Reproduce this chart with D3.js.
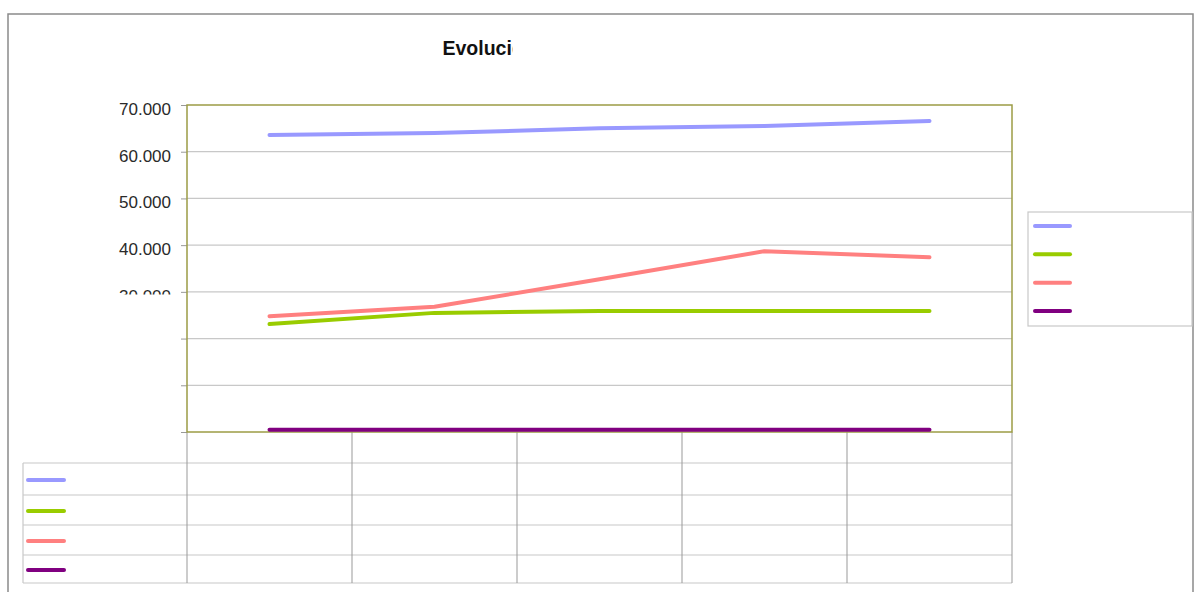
<!DOCTYPE html>
<html>
<head>
<meta charset="utf-8">
<script src="https://cdn.jsdelivr.net/npm/d3@7/dist/d3.min.js"></script>
<style>
  html, body { margin: 0; padding: 0; background: #fff; }
  svg { display: block; font-family: "Liberation Sans", Arial, sans-serif; }
</style>
</head>
<body>
<svg id="chart" width="1196" height="592"></svg>
<script>
// ---- data ----
const categories = ["c1", "c2", "c3", "c4", "c5"];
const seriesNames = ["s1", "s2", "s3", "s4"];
const seriesColors = ["#9999ff", "#99cc00", "#ff8080", "#800080"];
const blueValues   = [63600, 64000, 65000, 65500, 66600];
const greenValues  = [23100, 25500, 25900, 25900, 25900];
const redValues    = [24800, 26800, 32700, 38700, 37400];
const purpleValues = [500, 500, 500, 500, 500];
const yTicks = [0, 10000, 20000, 30000, 40000, 50000, 60000, 70000];
const yTickLabels = ["", "", "", "30.000", "40.000", "50.000", "60.000", "70.000"];
const titleText = "Evolución";

const series = [blueValues, greenValues, redValues, purpleValues];

// ---- layout ----
const svg = d3.select("#chart");
const plot = { left: 187, right: 1012, top: 105, bottom: 432 };

const x = d3.scalePoint().domain(categories).range([plot.left, plot.right]).padding(0.5);
const xBand = d3.scaleBand().domain(categories).range([plot.left, plot.right]);
const y = d3.scaleLinear().domain([0, 70000]).range([plot.bottom, plot.top]);

const defs = svg.append("defs");
defs.append("clipPath").attr("id", "titleClip")
  .append("rect").attr("x", 0).attr("y", 0).attr("width", 512.5).attr("height", 592);
defs.append("clipPath").attr("id", "labelClip")
  .append("rect").attr("x", 0).attr("y", 0).attr("width", 1196).attr("height", 294.5);

// outer frame
svg.append("rect")
  .attr("x", 8).attr("y", 14).attr("width", 1185).attr("height", 600)
  .attr("fill", "none").attr("stroke", "#8a8a8a").attr("stroke-width", 1.5);

// title (clipped like the reference)
svg.append("text")
  .attr("x", 442.5).attr("y", 55)
  .attr("clip-path", "url(#titleClip)")
  .attr("font-size", 19.5).attr("font-weight", "bold").attr("fill", "#111")
  .text(titleText);

// grid lines
svg.append("g").selectAll("line").data(yTicks.filter(t => t > 0 && t < 70000)).join("line")
  .attr("x1", plot.left).attr("x2", plot.right)
  .attr("y1", d => y(d)).attr("y2", d => y(d))
  .attr("stroke", "#c8c8c8").attr("stroke-width", 1.2);

// y axis ticks via d3.axisLeft
const yAxis = d3.axisLeft(y).tickValues(yTicks).tickSize(6).tickFormat(() => "");
const gy = svg.append("g").attr("transform", `translate(${plot.left},0)`).call(yAxis);
gy.select(".domain").remove();
gy.selectAll(".tick line").attr("stroke", "#999").attr("stroke-width", 1);
gy.selectAll(".tick text").remove();

// y labels (clipped like the reference)
const labelsLayer = svg.append("g").attr("clip-path", "url(#labelClip)");
labelsLayer.selectAll("text").data(yTicks).join("text")
  .attr("x", plot.left - 16).attr("y", d => y(d) + 10)
  .attr("text-anchor", "end")
  .attr("font-size", 17).attr("fill", "#2a2a2a")
  .text((d, i) => yTickLabels[i]);

// table below the plot
const table = { left: 23, rowH: [463, 495, 525, 555, 583] };
const tg = svg.append("g");
tg.selectAll("line.h").data(table.rowH).join("line").attr("class", "h")
  .attr("x1", table.left).attr("x2", plot.right)
  .attr("y1", d => d).attr("y2", d => d)
  .attr("stroke", "#c8c8c8").attr("stroke-width", 1.2);
tg.append("line")
  .attr("x1", table.left).attr("x2", table.left)
  .attr("y1", table.rowH[0]).attr("y2", table.rowH[4])
  .attr("stroke", "#c8c8c8").attr("stroke-width", 1.2);
const colEdges = categories.map(c => xBand(c)).concat([plot.right]);
tg.selectAll("line.v").data(colEdges).join("line").attr("class", "v")
  .attr("x1", d => d).attr("x2", d => d)
  .attr("y1", plot.bottom).attr("y2", table.rowH[4])
  .attr("stroke", "#999").attr("stroke-width", 1);
tg.selectAll("line.k").data(seriesColors).join("line").attr("class", "k")
  .attr("x1", 28).attr("x2", 64)
  .attr("y1", (d, i) => (table.rowH[i] + table.rowH[i + 1]) / 2 + 1)
  .attr("y2", (d, i) => (table.rowH[i] + table.rowH[i + 1]) / 2 + 1)
  .attr("stroke", d => d).attr("stroke-width", 4).attr("stroke-linecap", "round");

// plot border (olive)
svg.append("rect")
  .attr("x", plot.left).attr("y", plot.top)
  .attr("width", plot.right - plot.left).attr("height", plot.bottom - plot.top)
  .attr("fill", "none").attr("stroke", "#9c9c45").attr("stroke-width", 1.5);

// series lines
const line = d3.line().x((d, i) => x(categories[i])).y(d => y(d));
svg.append("g").selectAll("path").data(series).join("path")
  .attr("d", d => line(d))
  .attr("fill", "none")
  .attr("stroke", (d, i) => seriesColors[i])
  .attr("stroke-width", 4)
  .attr("stroke-linejoin", "round")
  .attr("stroke-linecap", "round");

// legend on the right
const lg = svg.append("g");
lg.append("rect")
  .attr("x", 1028).attr("y", 212).attr("width", 164).attr("height", 114)
  .attr("fill", "#fff").attr("stroke", "#c8c8c8").attr("stroke-width", 1.2);
const legendY = d3.scalePoint().domain(seriesNames).range([226, 311]);
lg.selectAll("line").data(seriesNames).join("line")
  .attr("x1", 1035).attr("x2", 1070)
  .attr("y1", d => legendY(d)).attr("y2", d => legendY(d))
  .attr("stroke", (d, i) => seriesColors[i]).attr("stroke-width", 4)
  .attr("stroke-linecap", "round");
</script>
</body>
</html>
